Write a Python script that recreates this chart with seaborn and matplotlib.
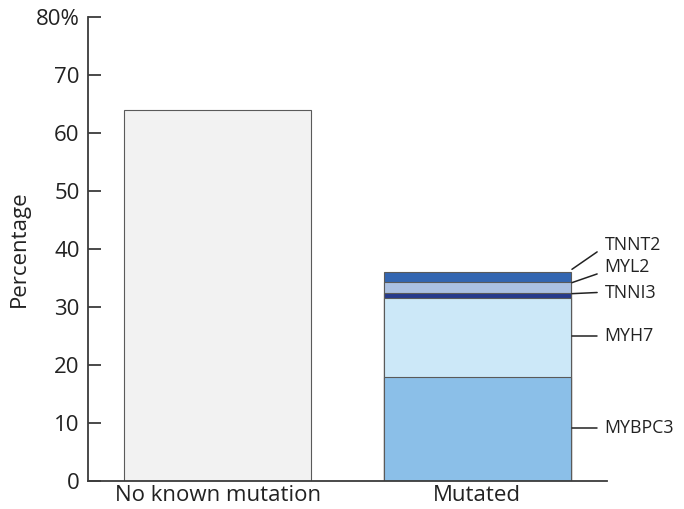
# Stacked bar: share of patients with no known mutation vs mutated (by gene)
import matplotlib
matplotlib.use("Agg")
import matplotlib.pyplot as plt
import seaborn as sns
import numpy as np
import pandas as pd

# --- DATA ---
categories = ["No known mutation", "Mutated"]
no_mutation_pct = 64
genes = ["MYBPC3", "MYH7", "TNNI3", "MYL2", "TNNT2"]
gene_pct = [18, 13.5, 1, 1.8, 1.7]
y_ticks = [0, 10, 20, 30, 40, 50, 60, 70, 80]
y_tick_labels = ["0", "10", "20", "30", "40", "50", "60", "70", "80%"]

# --- STYLE ---
gene_colors = ["#8bbfe8", "#cce8f8", "#263a8c", "#abc1e2", "#3366b1"]
gray_fill = "#f2f2f2"
edge = "#5a5a5a"
axis_col = "#3c3c3c"
# label anchors (y text, y line start) for the gene callouts
label_y = [9.1, 25.0, 32.5, 36.9, 40.7]
line_start_y = [9.1, 25.0, 32.3, 34.2, 36.5]

sns.set_theme(style="white")
plt.rcParams["font.family"] = ["Open Sans", "DejaVu Sans"]

fig = plt.figure(figsize=(6.84, 5.09), dpi=100)
ax = fig.add_axes([0.1287, 0.055, 0.7587, 0.9116])

bar_w = 0.72
sns.barplot(x=[categories[0]], y=[no_mutation_pct], order=categories,
            color=gray_fill, saturation=1, width=bar_w,
            edgecolor=edge, linewidth=0.8, ax=ax)

# stacked segments drawn as cumulative totals, tallest first
cum = np.cumsum(gene_pct)
for top, col in zip(cum[::-1], gene_colors[::-1]):
    sns.barplot(x=[categories[1]], y=[top], order=categories,
                color=col, saturation=1, width=bar_w,
                edgecolor=edge, linewidth=0.8, ax=ax)

# gene callouts
for g, ty, sy in zip(genes, label_y, line_start_y):
    ly = ty if abs(ty - sy) < 0.3 else ty - 1.2
    ax.plot([1.365, 1.462], [sy, ly], color="#222222", lw=1.1, clip_on=False)
    ax.text(1.49, ty, g, ha="left", va="center", fontsize=12.8, color="#222222")

ax.set_xlim(-0.5, 1.5)
ax.set_ylim(0, 80)
ax.set_yticks(y_ticks)
ax.set_yticklabels(y_tick_labels)
ax.set_xlabel("")
ax.set_ylabel("Percentage", fontsize=16, color="#222222", labelpad=4)

for s in ["top", "right"]:
    ax.spines[s].set_visible(False)
for s in ["left", "bottom"]:
    ax.spines[s].set_color(axis_col)
    ax.spines[s].set_linewidth(1.3)

ax.tick_params(axis="y", direction="in", length=9.5, width=1.3, color=axis_col,
               labelsize=16, labelcolor="#222222", pad=6, left=True)
ax.tick_params(axis="x", length=0, labelsize=16, labelcolor="#222222", pad=3)

fig.savefig("out.png", dpi=100)
